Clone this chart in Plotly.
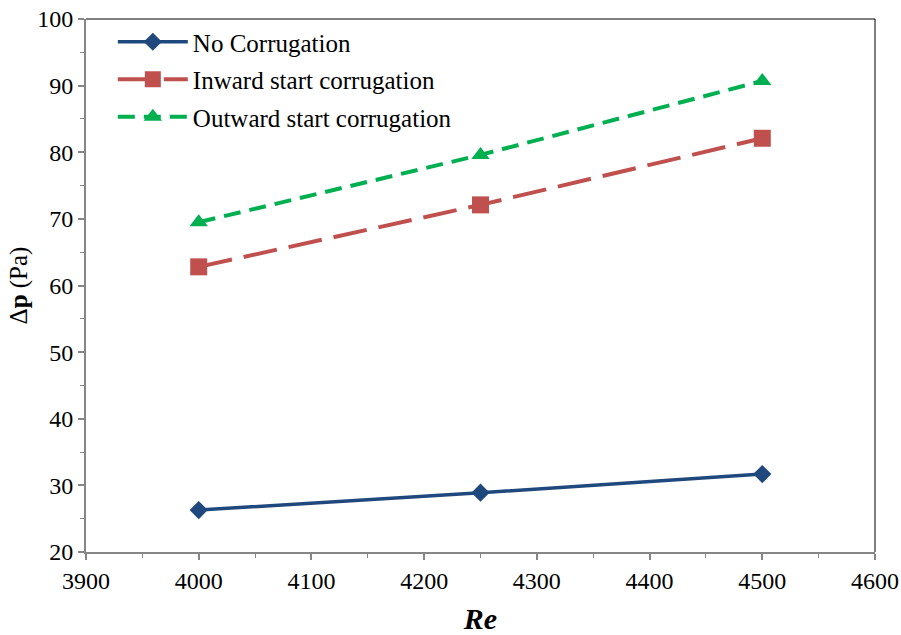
import plotly.graph_objects as go

re_vals = [4000, 4250, 4500]
no_corr = [26.3, 28.9, 31.7]
inward = [62.8, 72.1, 82.1]
outward = [69.5, 79.6, 90.7]
x_ticks = [3900, 4000, 4100, 4200, 4300, 4400, 4500, 4600]
y_ticks = [20, 30, 40, 50, 60, 70, 80, 90, 100]

FONT = "Liberation Serif"

fig = go.Figure()
fig.add_trace(go.Scatter(x=re_vals, y=no_corr, name="No Corrugation", mode="lines+markers",
                         legendgroup="a",
                         line=dict(color="#1F497D", width=3.5),
                         marker=dict(symbol="diamond", size=14, color="#1F497D")))
fig.add_trace(go.Scatter(x=re_vals, y=inward, name="Inward start corrugation", mode="lines+markers",
                         legendgroup="b",
                         line=dict(color="#C0504D", width=4, dash="34px,12px"),
                         marker=dict(symbol="square", size=17, color="#C0504D")))
fig.add_trace(go.Scatter(x=re_vals, y=outward, name="Outward start corrugation", mode="lines+markers",
                         legendgroup="c",
                         line=dict(color="#00B050", width=4, dash="17px,9px"),
                         marker=dict(symbol="triangle-up", size=16, color="#00B050")))

axis_common = dict(showgrid=False, zeroline=False, ticks="outside", ticklen=6, tickwidth=1.5,
                   tickcolor="#868686", showline=True, linecolor="#868686", linewidth=2,
                   automargin=False, ticklabeloverflow="allow",
                   tickfont=dict(family=FONT, size=24, color="black"),
                   minor=dict(ticks="outside", ticklen=4, tickwidth=1.2, tickcolor="#868686"))

fig.update_xaxes(range=[3900, 4600], tickvals=x_ticks, minor_dtick=50, **axis_common,
                 title=dict(text="<b><i>Re</i></b>", font=dict(family=FONT, size=30, color="black"), standoff=20))
fig.update_yaxes(range=[20, 100], tickvals=y_ticks, minor_dtick=5, **axis_common,
                 title=dict(text="Δ<b>p</b> (Pa)", font=dict(family=FONT, size=25, color="black"), standoff=2))

fig.update_layout(
    width=901, height=635,
    margin=dict(l=86, r=26, t=19, b=83),
    plot_bgcolor="white", paper_bgcolor="white",
    font=dict(family=FONT, size=24, color="black"),
    legend=dict(x=0.034, y=1.0, xanchor="left", yanchor="top", bgcolor="rgba(0,0,0,0)",
                traceorder="grouped", tracegroupgap=2,
                font=dict(family=FONT, size=25, color="black"), itemwidth=70),
    shapes=[
        dict(type="line", xref="paper", yref="paper", x0=0, x1=1, y0=1, y1=1, line=dict(color="black", width=1)),
        dict(type="line", xref="paper", yref="paper", x0=1, x1=1, y0=0, y1=1, line=dict(color="black", width=1)),
    ],
)

# remove the browser's default 8px body margin so the 901x635 figure fills the window
fig.write_html("out.html", config={"displayModeBar": False},
               post_script="document.body.style.margin='0';")
